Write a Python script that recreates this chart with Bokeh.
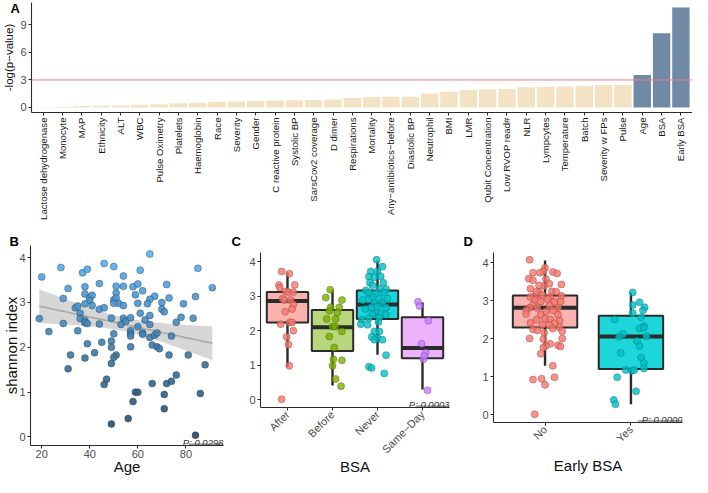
import math
import numpy as np
from bokeh.plotting import figure
from bokeh.layouts import column, row
from bokeh.models import (Range1d, FixedTicker, Label, ColumnDataSource, LinearColorMapper,
                          Span, Title)
from bokeh.embed import file_html
from bokeh.resources import INLINE

FONT = "Liberation Sans"

# ---------------- Panel A data ----------------
a_vars = ["Lactose dehydrogenase", "Monocyte", "MAP", "Ethnicity", "ALT", "WBC",
          "Pulse Oximetry", "Platelets", "Haemoglobin", "Race", "Severity", "Gender",
          "C reactive protein", "Systolic BP", "SarsCov2 coverage", "D dimer",
          "Respirations", "Mortality", "Any\u2212antibiotics\u2212before", "Diastolic BP",
          "Neutrophil", "BMI", "LMR", "Qubit Concentration", "Low RVOP read#", "NLR",
          "Lympcytes", "Temperature", "Batch", "Severity w FPs", "Pulse", "Age", "BSA",
          "Early BSA"]
a_vals = [0.01, 0.06, 0.17, 0.20, 0.22, 0.30, 0.35, 0.45, 0.52, 0.63, 0.66, 0.70,
          0.77, 0.80, 0.81, 0.88, 1.02, 1.13, 1.16, 1.17, 1.52, 1.72, 1.90, 2.00,
          2.02, 2.20, 2.25, 2.30, 2.33, 2.45, 2.48, 3.53, 8.10, 10.90]
a_threshold = 3.0
a_yticks = [0, 3, 6, 9]

# ---------------- Panel B data ----------------
b_age = [20, 28, 37, 39, 46, 50, 54, 31, 29, 38, 44, 38, 40, 41, 40, 41, 38, 51, 54, 51,
         50, 51, 52, 50, 54, 34, 35, 36, 36, 38, 38, 39, 44, 46, 49, 53, 54, 55, 19, 23,
         29, 35, 44, 50, 49, 49, 39, 45, 42, 51, 50, 32, 38, 49, 31, 47, 46, 56, 49,
         65, 85, 61, 91, 58, 60, 72, 62, 59, 67, 65, 73, 84, 79, 60, 64, 70, 70, 71, 61,
         65, 78, 83, 76, 57, 60, 63, 65, 57, 57, 57, 62, 62, 65, 67, 68, 74, 66, 68, 69,
         57, 73, 81, 88, 76, 66, 72, 74, 59, 60, 71, 86, 58, 71, 84]
b_shannon = [3.57, 3.78, 3.66, 3.74, 3.87, 3.80, 3.59, 3.31, 3.09, 3.35, 3.42, 3.19, 3.11,
             3.16, 3.04, 2.93, 2.97, 3.36, 3.36, 3.21, 3.06, 3.10, 2.98, 2.98, 2.93, 2.88,
             2.92, 2.76, 2.64, 2.60, 2.55, 2.53, 2.85, 2.88, 2.65, 2.51, 2.65, 2.58, 2.64,
             2.35, 2.53, 2.37, 2.52, 2.30, 2.14, 2.00, 2.08, 2.11, 1.88, 1.83, 1.78, 1.83,
             1.76, 1.64, 1.52, 1.29, 1.17, 0.41, 0.29,
             4.08, 3.76, 3.72, 3.33, 3.35, 3.41, 3.40, 3.26, 3.17, 3.14, 3.07, 3.10, 3.13,
             2.97, 2.98, 2.97, 3.00, 2.85, 2.79, 2.76, 2.71, 2.67, 2.65, 2.56, 2.66, 2.46,
             2.61, 2.51, 2.37, 2.30, 2.25, 2.32, 2.29, 2.22, 2.27, 2.32, 2.25, 2.05, 2.01,
             1.97, 2.01, 1.83, 1.83, 1.61, 1.38, 1.19, 1.19, 1.24, 1.00, 1.00, 0.95, 0.97,
             0.79, 0.63, 0.04]
b_xticks = [20, 40, 60, 80]
b_yticks = [0, 1, 2, 3, 4]
b_p = "P: 0.0298"

# ---------------- Panel C data ----------------
c_groups = ["After", "Before", "Never", "Same\u2212Day"]
c_q1 = [2.24, 1.41, 2.34, 1.20]
c_med = [2.86, 2.10, 2.76, 1.50]
c_q3 = [3.12, 2.60, 3.17, 2.39]
c_lo = [0.93, 0.41, 1.30, 0.29]
c_hi = [3.70, 3.19, 4.03, 2.82]
c_vals = [
    [3.72, 3.65, 3.33, 3.25, 3.33, 3.14, 3.12, 3.12, 2.93, 2.89, 2.89, 2.76, 2.63, 2.55,
     2.19, 2.24, 2.24, 2.00, 1.82, 1.60, 0.98, 0.01],
    [3.19, 2.96, 2.89, 2.68, 2.68, 2.58, 2.34, 2.34, 2.12, 1.98, 1.83, 2.12, 1.51, 1.17,
     0.98, 1.14, 0.60, 0.39, 2.53],
    [4.06, 3.86, 3.72, 3.72, 3.58, 3.57, 3.55, 3.39, 3.39, 3.32, 3.20, 3.22, 3.17, 3.11,
     3.08, 3.11, 2.98, 2.93, 2.93, 2.91, 2.89, 2.79, 2.79, 2.70, 2.67, 2.67, 2.63, 2.51,
     2.49, 2.48, 2.46, 2.38, 2.36, 2.32, 2.25, 1.98, 1.98, 1.82, 1.79, 1.74, 1.74, 1.29,
     0.95, 0.92, 0.76, 2.19, 2.17],
    [2.84, 2.72, 2.29, 1.62, 1.36, 1.17, 1.27, 0.27],
]
c_jit = [
    [-0.13, 0.04, -0.19, -0.17, 0.16, -0.04, 0.02, 0.13, -0.11, -0.07, 0.07, 0.13, 0.10,
     -0.05, -0.15, 0.05, 0.10, 0.13, -0.02, 0.02, 0.04, -0.13],
    [-0.05, -0.15, 0.21, -0.04, 0.15, -0.07, -0.13, 0.07, 0.00, 0.21, -0.07, 0.06, 0.04,
     0.02, 0.00, 0.21, 0.07, 0.19, 0.11],
    [-0.02, 0.11, -0.15, 0.00, 0.07, -0.19, -0.07, 0.13, -0.17, -0.11, 0.19, 0.04, -0.26,
     -0.19, -0.04, 0.15, -0.11, 0.04, 0.22, -0.20, -0.33, -0.07, 0.11, 0.00, -0.15, 0.19,
     -0.27, -0.04, 0.07, -0.11, 0.19, 0.04, -0.19, -0.35, 0.02, -0.07, 0.04, -0.13, 0.00,
     -0.07, 0.11, 0.19, -0.19, -0.13, 0.15, -0.37, -0.22],
    [-0.10, -0.07, 0.13, -0.02, 0.07, 0.02, 0.04, 0.11],
]
c_p = "P: 0.0003"

# ---------------- Panel D data ----------------
d_groups = ["No", "Yes"]
d_q1 = [2.30, 1.21]
d_med = [2.82, 2.06]
d_q3 = [3.14, 2.61]
d_lo = [1.29, 0.28]
d_hi = [4.06, 3.22]
d_vals = [
    [4.08, 3.87, 3.77, 3.74, 3.74, 3.76, 3.72, 3.58, 3.54, 3.57, 3.43, 3.39, 3.32, 3.24,
     3.25, 3.24, 3.15, 3.15, 3.10, 3.10, 3.13, 3.02, 2.98, 2.98, 2.98, 2.89, 2.87, 2.82,
     2.81, 2.81, 2.72, 2.75, 2.75, 2.63, 2.53, 2.63, 2.51, 2.50, 2.48, 2.42, 2.41, 2.37,
     2.36, 2.30, 2.25, 2.22, 2.27, 2.16, 2.20, 2.01, 1.99, 2.01, 1.87, 1.82, 1.83, 1.77,
     1.80, 1.61, 1.29, 0.99, 0.93, 0.95, 0.79, 0.02, 3.41, 3.45, 3.05, 3.24, 2.65],
    [3.22, 2.96, 2.89, 2.83, 2.75, 2.68, 2.57, 2.51, 2.33, 2.27, 2.29, 2.13, 2.05, 2.07,
     1.94, 1.81, 1.63, 1.51, 1.36, 1.22, 1.18, 1.16, 1.18, 0.99, 0.62, 0.39, 0.28],
]
d_jit = [
    [-0.18, 0.00, -0.02, -0.14, -0.06, 0.09, 0.14, -0.19, -0.14, 0.01, 0.19, -0.01, -0.17,
     -0.07, 0.08, 0.13, -0.11, -0.03, -0.17, 0.06, 0.19, -0.12, -0.05, 0.11, 0.18, -0.14,
     0.05, -0.18, -0.09, 0.15, 0.01, 0.09, -0.22, -0.05, 0.00, 0.15, 0.06, -0.10, 0.17,
     -0.17, 0.11, -0.03, 0.05, 0.17, -0.14, -0.09, 0.09, -0.01, 0.20, -0.18, -0.02, 0.20,
     0.06, 0.01, 0.15, -0.02, 0.18, -0.05, 0.09, 0.11, -0.14, -0.04, 0.00, -0.12, -0.07,
     0.05, 0.03, -0.10, -0.22],
    [0.02, 0.10, 0.02, 0.16, 0.14, 0.02, 0.12, -0.19, 0.15, 0.10, 0.15, -0.09, -0.14,
     0.18, 0.07, 0.10, -0.12, 0.12, 0.15, 0.15, -0.06, 0.01, 0.04, -0.16, 0.06, -0.20,
     -0.18],
]
d_p = "P: 0.0000"

GROUP_COLORS = {"After": "#F8766D", "Before": "#7CAE00", "Never": "#00BFC4",
                "Same\u2212Day": "#C77CFF", "No": "#F8766D", "Yes": "#00BFC4"}
BOX_FILL = {"After": "#F9B2AD", "Before": "#B8D67C", "Never": "#1CD4D8",
            "Same\u2212Day": "#ECB3FC", "No": "#F9B2AD", "Yes": "#1CD6DA"}
EDGE = {"After": "#9A4741", "Before": "#4F6F00", "Never": "#007B7E",
        "Same\u2212Day": "#7D4BA3", "No": "#9A4741", "Yes": "#007B7E"}


def style(p):
    p.outline_line_color = None
    p.xgrid.visible = False
    p.ygrid.visible = False
    p.background_fill_color = "white"
    p.border_fill_color = "white"
    for ax in p.axis:
        ax.axis_line_color = "#2b2b2b"
        ax.axis_line_width = 1.1
        ax.major_tick_line_color = "#2b2b2b"
        ax.minor_tick_line_color = None
        ax.major_tick_in = 0
        ax.major_tick_out = 3
        ax.major_label_standoff = 2
        ax.major_label_text_font = FONT
        ax.major_label_text_font_size = "11px"
        ax.major_label_text_color = "#4d4d4d"
        ax.axis_label_text_font = FONT
        ax.axis_label_text_font_style = "normal"
        ax.axis_label_text_color = "#111111"
        ax.axis_label_text_font_size = "15px"


def letter(p, txt, xoff, standoff):
    p.add_layout(Title(text=txt, align="left", offset=xoff, standoff=standoff,
                       text_font=FONT, text_font_style="bold", text_font_size="13px",
                       text_color="black"), "above")


def pvalue(p, txt, width_data, ybase):
    p.add_layout(Label(x=p.x_range.end, y=ybase, text=txt, text_align="right",
                       text_baseline="alphabetic", text_font=FONT,
                       text_font_style="italic", text_font_size="9.5px",
                       text_color="#333333"))
    yl = ybase - 0.04 * (p.y_range.end - p.y_range.start) / 4.5
    p.segment(x0=[p.x_range.end - width_data], x1=[p.x_range.end], y0=[yl], y1=[yl],
              line_color="#333333", line_width=0.8)


# ================= Panel A =================
a_x = list(range(1, len(a_vars) + 1))
a_colors = ["#7089A5" if v > a_threshold else "#F3E3C4" for v in a_vals]
pA = figure(width=692, height=222, output_backend="svg", toolbar_location=None,
            x_range=Range1d(0.4, len(a_vars) + 0.6), y_range=Range1d(-0.55, 11.45),
            min_border_left=20, min_border_right=0, min_border_top=2, min_border_bottom=109)
pA.frame_align = False
srcA = ColumnDataSource(dict(x=a_x, top=a_vals, color=a_colors))
pA.vbar(x="x", top="top", width=0.9, fill_color="color", line_color=None, source=srcA)
pA.add_layout(Span(location=a_threshold, dimension="width", line_color="#EE7B7B",
                   line_width=1))
style(pA)
pA.xaxis.ticker = FixedTicker(ticks=a_x)
pA.xaxis.major_label_overrides = {x: name for x, name in zip(a_x, a_vars)}
pA.xaxis.major_label_orientation = math.pi / 2
pA.xaxis.major_label_text_font_size = "9.6px"
pA.xaxis.major_label_text_color = "#1a1a1a"
pA.yaxis.ticker = FixedTicker(ticks=a_yticks)
pA.yaxis.axis_label = "-log(p\u2212value)"
pA.yaxis.axis_label_text_font_size = "11.5px"
pA.yaxis.axis_label_standoff = 2
letter(pA, "A", -21, -26)

# ================= Panel B =================
pB = figure(width=225, height=255, output_backend="svg", toolbar_location=None,
            x_range=Range1d(15.35, 95.65), y_range=Range1d(-0.19, 4.27),
            min_border_left=22, min_border_right=2, min_border_top=23, min_border_bottom=30)
pB.frame_align = False
bx = np.array(b_age, dtype=float)
by = np.array(b_shannon, dtype=float)
n = len(bx)
slope, inter = np.polyfit(bx, by, 1)
xs = np.linspace(bx.min(), bx.max(), 80)
yhat = inter + slope * xs
resid = by - (inter + slope * bx)
s = np.sqrt((resid ** 2).sum() / (n - 2))
se = s * np.sqrt(1.0 / n + (xs - bx.mean()) ** 2 / ((bx - bx.mean()) ** 2).sum())
tcrit = 1.98
pB.varea(x=xs, y1=yhat - tcrit * se, y2=yhat + tcrit * se, fill_color="#999999",
         fill_alpha=0.4)
pB.line(xs, yhat, line_color="#a8a8a8", line_width=1.6)


def hex2rgb(h):
    return tuple(int(h[i:i + 2], 16) for i in (1, 3, 5))


lo_c, hi_c = hex2rgb("#27465E"), hex2rgb("#56B1F7")
grad = ["#%02x%02x%02x" % tuple(int(round(lo_c[k] + (hi_c[k] - lo_c[k]) * t / 255.0))
                                for k in range(3)) for t in range(256)]
mapper = LinearColorMapper(palette=grad, low=min(b_shannon), high=max(b_shannon))
srcB = ColumnDataSource(dict(x=b_age, y=b_shannon))
pB.scatter("x", "y", source=srcB, size=7, fill_color={"field": "y", "transform": mapper},
           fill_alpha=0.9, line_color="#1b2f3d", line_alpha=0.6, line_width=0.6)
style(pB)
pB.xaxis.ticker = FixedTicker(ticks=b_xticks)
pB.yaxis.ticker = FixedTicker(ticks=b_yticks)
pB.xaxis.axis_label = "Age"
pB.yaxis.axis_label = "shannon index"
pB.xaxis.major_label_standoff = 1
pB.xaxis.axis_label_standoff = -3
pB.yaxis.axis_label_standoff = -4
pvalue(pB, b_p, 14.5, -0.12)
letter(pB, "B", -21, -6)


# ================= Box panels =================
def box_panel(groups, q1, med, q3, lo, hi, vals, jit, ptxt, width, yrng, borders, boxw,
              pwidth, xlabel, title_standoff):
    bl, br, bt, bb = borders
    k = len(groups)
    p = figure(width=width, height=255, output_backend="svg", toolbar_location=None,
               x_range=Range1d(0.4, k + 0.6), y_range=Range1d(*yrng),
               min_border_left=bl, min_border_right=br, min_border_top=bt,
               min_border_bottom=bb)
    p.frame_align = False
    xs_ = list(range(1, k + 1))
    src = ColumnDataSource(dict(x=xs_, q1=q1, med=med, q3=q3, lo=lo, hi=hi,
                                xl=[x - boxw / 2 for x in xs_],
                                xr=[x + boxw / 2 for x in xs_],
                                fill=[BOX_FILL[g] for g in groups]))
    p.segment(x0="x", x1="x", y0="lo", y1="q1", source=src, line_color="#2b2b2b",
              line_width=2.4)
    p.segment(x0="x", x1="x", y0="q3", y1="hi", source=src, line_color="#2b2b2b",
              line_width=2.4)
    p.vbar(x="x", bottom="q1", top="q3", width=boxw, source=src, fill_color="fill",
           line_color="#2b2b2b", line_width=2)
    p.segment(x0="xl", x1="xr", y0="med", y1="med", source=src, line_color="#2b2b2b",
              line_width=4)
    for i, g in enumerate(groups):
        px = [xs_[i] + j for j in jit[i]]
        p.scatter(px, vals[i], size=7, fill_color=GROUP_COLORS[g], fill_alpha=0.8,
                  line_color=EDGE[g], line_alpha=0.8, line_width=0.6)
    style(p)
    p.xaxis.ticker = FixedTicker(ticks=xs_)
    p.xaxis.major_label_overrides = {x: g for x, g in zip(xs_, groups)}
    p.xaxis.major_label_orientation = math.pi / 4
    p.xaxis.major_label_text_font_size = "11px"
    p.yaxis.ticker = FixedTicker(ticks=[0, 1, 2, 3, 4])
    p.xaxis.axis_label = xlabel
    p.xaxis.axis_label_standoff = title_standoff
    pvalue(p, ptxt, pwidth, yrng[0] + 0.08)
    return p


pC = box_panel(c_groups, c_q1, c_med, c_q3, c_lo, c_hi, c_vals, c_jit, c_p, 230,
               (-0.23, 4.27), (35, 6, 30, 70), 0.92, 0.75, "BSA", -5)
letter(pC, "C", -29, 8)

pD = box_panel(d_groups, d_q1, d_med, d_q3, d_lo, d_hi, d_vals, d_jit, d_p, 237,
               (-0.2, 4.27), (38, 10, 30, 55), 0.75, 0.52, "Early BSA", 5)
letter(pD, "D", -30, 8)

layout = column(pA, row(pB, pC, pD))
open("out.html", "w").write(file_html(layout, INLINE))
